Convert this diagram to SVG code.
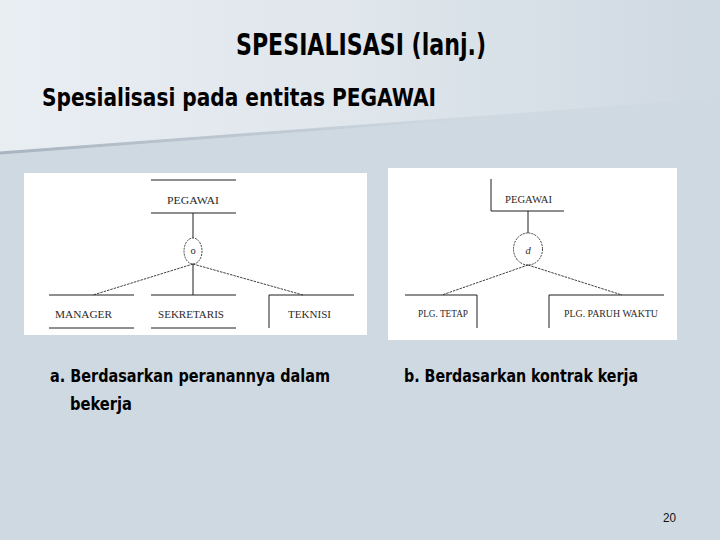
<svg xmlns="http://www.w3.org/2000/svg" width="720" height="540" viewBox="0 0 720 540">
<defs>
<linearGradient id="upper" x1="0" y1="0" x2="1" y2="0">
<stop offset="0" stop-color="#e9eef3"/>
<stop offset="0.5" stop-color="#dfe6ec"/>
<stop offset="1" stop-color="#cfd9e2"/>
</linearGradient>
<linearGradient id="shade" x1="0" y1="0" x2="1" y2="0">
<stop offset="0" stop-color="#a7b3be" stop-opacity="1"/>
<stop offset="0.6" stop-color="#b8c3cd" stop-opacity="0.6"/>
<stop offset="1" stop-color="#cfd9e2" stop-opacity="0"/>
</linearGradient>
<style>
.head{font-family:"Liberation Sans Narrow","DejaVu Sans Condensed","Liberation Sans",sans-serif;font-weight:bold;fill:#000}
.ent{font-family:"Liberation Serif","DejaVu Serif",serif;font-size:10.5px;fill:#2a2a2a}
.ln{stroke:#1e1e1e;stroke-width:1;fill:none}
.dash{stroke:#2a2a2a;stroke-width:0.9;fill:none;stroke-dasharray:2.5 1}
.circ{stroke:#2a2a2a;stroke-width:0.9;fill:#fff;stroke-dasharray:2 1}
</style>
</defs>
<rect x="0" y="0" width="720" height="540" fill="#cfd9e2"/>
<polygon points="0,0 720,0 720,98 0,152" fill="url(#upper)"/>
<line x1="0" y1="153" x2="520" y2="114" stroke="url(#shade)" stroke-width="3"/>

<text class="head" x="236" y="55" font-size="31" textLength="250" lengthAdjust="spacingAndGlyphs">SPESIALISASI (lanj.)</text>
<text class="head" x="42" y="106" font-size="24" textLength="394" lengthAdjust="spacingAndGlyphs">Spesialisasi pada entitas PEGAWAI</text>

<g id="panel-a">
<rect x="24" y="173" width="343" height="162" fill="#fff"/>
</g>
<g id="panel-b">
<rect x="388" y="168" width="289" height="172" fill="#fff"/>
</g>

<g id="a-pegawai">
<line class="ln" x1="151" y1="180" x2="236" y2="180"/>
<line class="ln" x1="151" y1="213" x2="236" y2="213"/>
<text class="ent" x="167" y="204" textLength="52" lengthAdjust="spacingAndGlyphs">PEGAWAI</text>
</g>
<g id="a-circle">
<ellipse class="circ" cx="193" cy="251" rx="9" ry="13"/>
<text class="ent" x="193" y="254" text-anchor="middle" font-size="10">o</text>
</g>
<g id="a-manager">
<line class="ln" x1="49" y1="295" x2="134" y2="295"/>
<line class="ln" x1="49" y1="328" x2="134" y2="328"/>
<text class="ent" x="55" y="318" textLength="57" lengthAdjust="spacingAndGlyphs">MANAGER</text>
</g>
<g id="a-sekretaris">
<line class="ln" x1="151" y1="295" x2="236" y2="295"/>
<line class="ln" x1="151" y1="328" x2="236" y2="328"/>
<text class="ent" x="158" y="318" textLength="66" lengthAdjust="spacingAndGlyphs">SEKRETARIS</text>
</g>
<g id="a-teknisi">
<polyline class="ln" points="354,295 269,295 269,328"/>
<text class="ent" x="288" y="318" textLength="43" lengthAdjust="spacingAndGlyphs">TEKNISI</text>
</g>

<g id="b-pegawai">
<polyline class="ln" points="491,179 491,211 564,211"/>
<text class="ent" x="505" y="203" textLength="47" lengthAdjust="spacingAndGlyphs">PEGAWAI</text>
</g>
<g id="b-circle">
<ellipse class="circ" cx="528" cy="249" rx="14.5" ry="16"/>
<text class="ent" x="528" y="254" text-anchor="middle" font-size="11" font-style="italic">d</text>
</g>
<g id="b-tetap">
<polyline class="ln" points="405,295 477,295 477,328"/>
<text class="ent" x="418" y="317" textLength="50" lengthAdjust="spacingAndGlyphs">PLG. TETAP</text>
</g>
<g id="b-paruh">
<polyline class="ln" points="664,295 549,295 549,328"/>
<text class="ent" x="564" y="317" textLength="94" lengthAdjust="spacingAndGlyphs">PLG. PARUH WAKTU</text>
</g>

<g id="connectors">
<line class="ln" x1="193" y1="213" x2="193" y2="238"/>
<line class="dash" x1="193" y1="264" x2="93" y2="295"/>
<line class="ln" x1="193" y1="264" x2="193" y2="295"/>
<line class="dash" x1="193" y1="264" x2="303" y2="295"/>
<line class="ln" x1="528" y1="211" x2="528" y2="233" stroke-width="2"/>
<line class="dash" x1="528" y1="265" x2="442" y2="295"/>
<line class="dash" x1="528" y1="265" x2="622" y2="295"/>
</g>

<text class="head" x="50" y="382" font-size="18" textLength="280" lengthAdjust="spacingAndGlyphs">a. Berdasarkan peranannya dalam</text>
<text class="head" x="70" y="410" font-size="18" textLength="62" lengthAdjust="spacingAndGlyphs">bekerja</text>
<text class="head" x="404" y="382" font-size="18" textLength="234" lengthAdjust="spacingAndGlyphs">b. Berdasarkan kontrak kerja</text>

<text x="663" y="522" font-family="Liberation Sans, sans-serif" font-size="12" fill="#111" textLength="13" lengthAdjust="spacingAndGlyphs">20</text>
</svg>
